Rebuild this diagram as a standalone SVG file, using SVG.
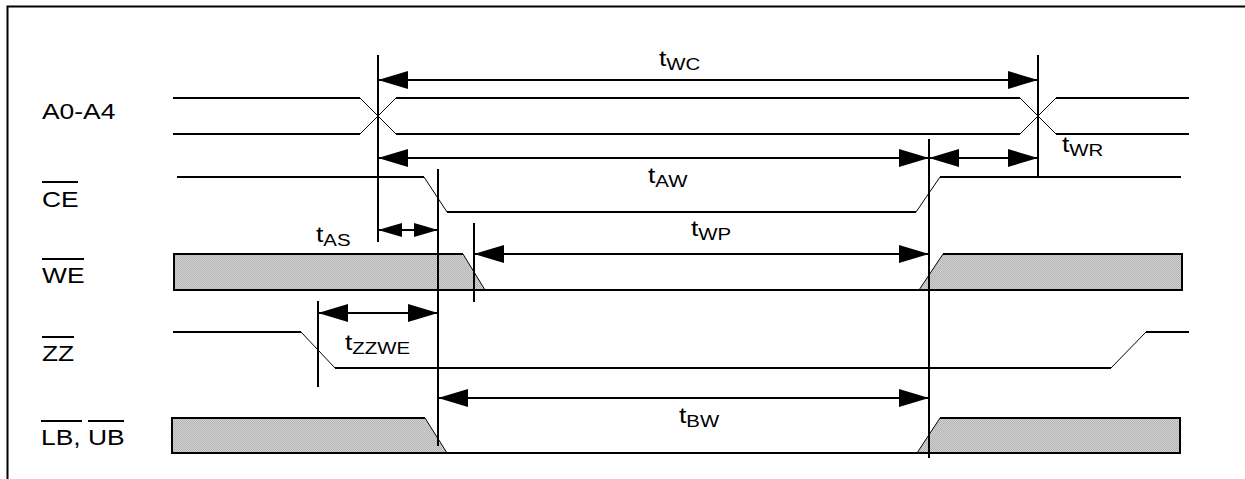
<svg xmlns="http://www.w3.org/2000/svg" width="1245" height="479" viewBox="0 0 1245 479">
<style>
.thick{stroke:#000;stroke-width:2;fill:none}
.thin{stroke:#000;stroke-width:1;fill:none}
.lbl{font-family:"Liberation Sans",Arial,sans-serif;font-size:22px;fill:#000}
.sub{font-size:17px}
.dim{stroke:#000;stroke-width:2;fill:none;marker-start:url(#ah);marker-end:url(#ah)}
.dims{stroke:#000;stroke-width:2;fill:none;marker-start:url(#ahs);marker-end:url(#ahs)}
.fillp{fill:url(#dots);stroke:none}
</style>
<defs>
<pattern id="dots" width="2" height="2" patternUnits="userSpaceOnUse">
<rect width="2" height="2" fill="#d2d2d2" shape-rendering="crispEdges"/>
<rect width="1" height="1" fill="#b4b4b4" shape-rendering="crispEdges"/>
<rect x="1" y="1" width="1" height="1" fill="#b4b4b4" shape-rendering="crispEdges"/>
</pattern>
<marker id="ah" viewBox="0 0 30 18" refX="30" refY="9" markerWidth="30" markerHeight="18" markerUnits="userSpaceOnUse" orient="auto-start-reverse">
<path d="M0,0 L30,9 L0,18 Z" fill="#000"/>
</marker>
<marker id="ahs" viewBox="0 0 24 14" refX="24" refY="7" markerWidth="24" markerHeight="14" markerUnits="userSpaceOnUse" orient="auto-start-reverse">
<path d="M0,0 L24,7 L0,14 Z" fill="#000"/>
</marker>
</defs>

<g id="frame">
<path class="thick" d="M7.5,479 V6.5 H1245"/>
</g>

<g id="sig-a0a4">
<text class="lbl" transform="translate(42,119) scale(1.2,1)">A0-A4</text>
<path class="thick" d="M173,98 H360 M173,134 H360 M396,98 H1020 M396,134 H1020 M1056,98 H1189 M1056,134 H1189"/>
<path class="thin" d="M360,98 L396,134 M360,134 L396,98 M1020,98 L1056,134 M1020,134 L1056,98"/>
</g>

<g id="sig-ce">
<text class="lbl" transform="translate(42,207) scale(1.2,1)">CE</text>
<path class="thick" d="M42,182 H78"/>
<path class="thick" d="M177,177 H424 M447,212 H916 M940,177 H1181"/>
<path class="thin" d="M424,177 L447,212 M916,212 L940,177"/>
</g>

<g id="sig-we">
<text class="lbl" transform="translate(42,283) scale(1.2,1)">WE</text>
<path class="thick" d="M42,259 H84"/>
<polygon class="fillp" points="174,254 463,254 485,290 174,290"/>
<polygon class="fillp" points="919,290 943,254 1182,254 1182,290"/>
<path class="thick" d="M174,254 H463 M174,253 V291 M174,290 H1182 M943,254 H1182 M1182,253 V291"/>
<path class="thin" d="M463,254 L485,290 M919,290 L943,254"/>
</g>

<g id="sig-zz">
<text class="lbl" transform="translate(42,361) scale(1.2,1)">ZZ</text>
<path class="thick" d="M42,337 H74"/>
<path class="thick" d="M173,332 H301 M335,368 H1111 M1146,332 H1189"/>
<path class="thin" d="M301,332 L335,368 M1111,368 L1146,332"/>
</g>

<g id="sig-lbub">
<text class="lbl" transform="translate(41,445) scale(1.2,1)">LB, UB</text>
<path class="thick" d="M41,421 H82 M88,421 H124"/>
<polygon class="fillp" points="172,418 425,418 447,453 172,453"/>
<polygon class="fillp" points="917,453 940,418 1180,418 1180,453"/>
<path class="thick" d="M172,418 H425 M172,417 V454 M172,453 H1180 M940,418 H1180 M1180,417 V454"/>
<path class="thin" d="M425,418 L447,453 M917,453 L940,418"/>
</g>

<g id="connectors">
<path class="thick" d="M378,55 V242 M1038,55 V177 M438,169 V446 M929,139 V458 M474,223 V302 M318,301 V387"/>
<line class="dim" x1="378" y1="80" x2="1038" y2="80"/>
<line class="dim" x1="378" y1="158" x2="929" y2="158"/>
<line class="dim" x1="929" y1="158" x2="1038" y2="158"/>
<line class="dims" x1="378" y1="230" x2="438" y2="230"/>
<line class="dim" x1="474" y1="254" x2="929" y2="254"/>
<line class="dim" x1="318" y1="313" x2="438" y2="313"/>
<line class="dim" x1="438" y1="398" x2="929" y2="398"/>
</g>

<g id="timing-labels">
<text class="lbl" transform="translate(659,66) scale(1.2,1)">t<tspan class="sub" dy="4">WC</tspan></text>
<text class="lbl" transform="translate(648,183) scale(1.2,1)">t<tspan class="sub" dy="4">AW</tspan></text>
<text class="lbl" transform="translate(1062,152) scale(1.2,1)">t<tspan class="sub" dy="4">WR</tspan></text>
<text class="lbl" transform="translate(316,242) scale(1.2,1)">t<tspan class="sub" dy="4">AS</tspan></text>
<text class="lbl" transform="translate(691,236) scale(1.2,1)">t<tspan class="sub" dy="4">WP</tspan></text>
<text class="lbl" transform="translate(345,350) scale(1.2,1)">t<tspan class="sub" dy="4">ZZWE</tspan></text>
<text class="lbl" transform="translate(679,423) scale(1.2,1)">t<tspan class="sub" dy="4">BW</tspan></text>
</g>
</svg>
